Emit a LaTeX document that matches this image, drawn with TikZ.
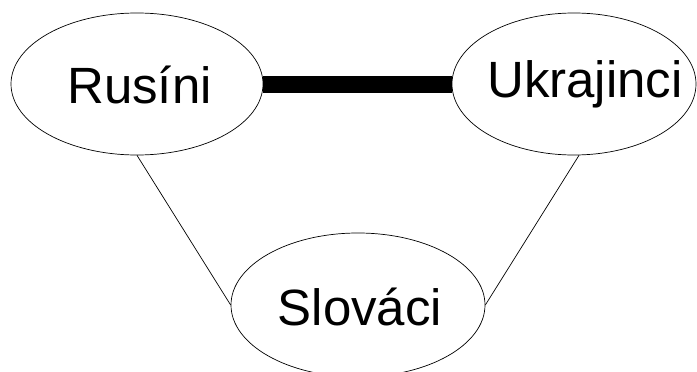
\documentclass[tikz,border=0pt]{standalone}
\usepackage{fontspec}
\setmainfont{Liberation Sans}
\usetikzlibrary{shapes.geometric}
\begin{document}
\begin{tikzpicture}[x=1pt,y=-1pt,
  ell/.style={draw=black, line width=0.7pt, ellipse, inner sep=0pt},
  lbl/.style={anchor=base, inner sep=0pt, font=\fontsize{51}{60}\selectfont},
  thin/.style={draw=black, line width=0.7pt},
  thick/.style={draw=black, line width=17pt}]
\path[use as bounding box] (0,0) rectangle (697,372);
\node[ell, minimum width=252pt, minimum height=142pt] (rus) at (137,84) {};
\node[ell, minimum width=244pt, minimum height=142pt] (ukr) at (574,84) {};
\node[ell, minimum width=254pt, minimum height=144pt] (slo) at (358,305) {};
\node[lbl] (rust) at (139.5,103) {Rusíni};
\node[lbl] (ukrt) at (585,97) {Ukrajinci};
\node[lbl] (slot) at (360,325) {Slováci};
\draw[thick] (rus.east) -- (ukr.west);
\draw[thin] (rus.south) -- (slo.west);
\draw[thin] ([xshift=5pt]ukr.south) -- (slo.east);
\end{tikzpicture}
\end{document}
